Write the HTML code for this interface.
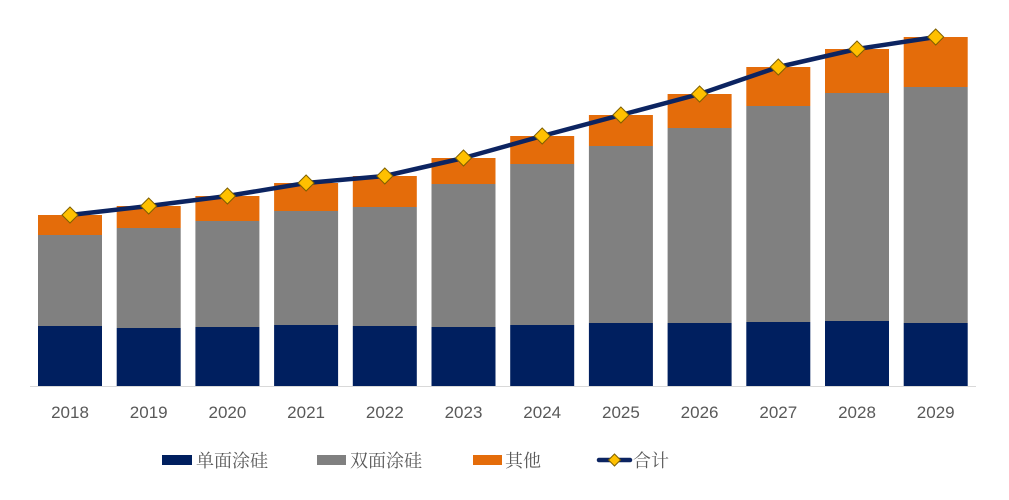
<!DOCTYPE html>
<html><head><meta charset="utf-8"><style>
body{margin:0;background:#fff;}
svg{display:block;}
.t{font-family:"Liberation Sans","Noto Sans CJK SC",sans-serif;font-size:17px;fill:#595959;}
.l{font-family:"Liberation Serif","Noto Serif CJK SC",serif;font-size:18px;fill:#595959;}
</style></head><body>
<svg width="1009" height="500" viewBox="0 0 1009 500" xmlns="http://www.w3.org/2000/svg">
<g id="bars"></g>
<line x1="30" y1="386.5" x2="976" y2="386.5" stroke="#d9d9d9" stroke-width="1"/>
<polyline id="tot" fill="none" stroke="#0c2461" stroke-width="4.5" stroke-linejoin="round" points=""/>
<g id="dia"></g>
<g id="lab"></g>
<rect x="162" y="455" width="30" height="10" fill="#001f5f"/>
<text class="l" x="196" y="467">单面涂硅</text>
<rect x="317" y="455" width="29" height="10" fill="#808080"/>
<text class="l" x="350" y="467">双面涂硅</text>
<rect x="473" y="455" width="29" height="10" fill="#e46c0a"/>
<text class="l" x="505" y="467">其他</text>
<line x1="599" y1="460" x2="630" y2="460" stroke="#0c2461" stroke-width="4.5" stroke-linecap="round"/>
<polygon points="614.5,454 620.5,460 614.5,466 608.5,460" fill="#ffc000" stroke="#7f6000" stroke-width="1"/>
<text class="l" x="633" y="467">合计</text>
</svg>
<script>
const d=[[326,235,215],[328,228,206],[327,221,196],[325,211,183],[326,207,176],[327,184,158],[325,164,136],[323,146,115],[323,128,94],[322,106,67],[321,93,49],[323,87,37]];
const base=386;let b='',p=[],di='',lb='';
d.forEach((v,i)=>{const x=38+i*78.7,w=64,c=x+w/2;
b+=`<rect x="${x}" y="${v[0]}" width="${w}" height="${base-v[0]}" fill="#001f5f"/>`;
b+=`<rect x="${x}" y="${v[1]}" width="${w}" height="${v[0]-v[1]}" fill="#808080"/>`;
b+=`<rect x="${x}" y="${v[2]}" width="${w}" height="${v[1]-v[2]}" fill="#e46c0a"/>`;
p.push(c+','+v[2]);
di+=`<polygon points="${c},${v[2]-8} ${c+8},${v[2]} ${c},${v[2]+8} ${c-8},${v[2]}" fill="#ffc000" stroke="#7f6000" stroke-width="1"/>`;
lb+=`<text class="t" x="${c}" y="418" text-anchor="middle">${2018+i}</text>`;});
document.getElementById('bars').innerHTML=b;
document.getElementById('tot').setAttribute('points',p.join(' '));
document.getElementById('dia').innerHTML=di;
document.getElementById('lab').innerHTML=lb;
</script>
</body></html>
